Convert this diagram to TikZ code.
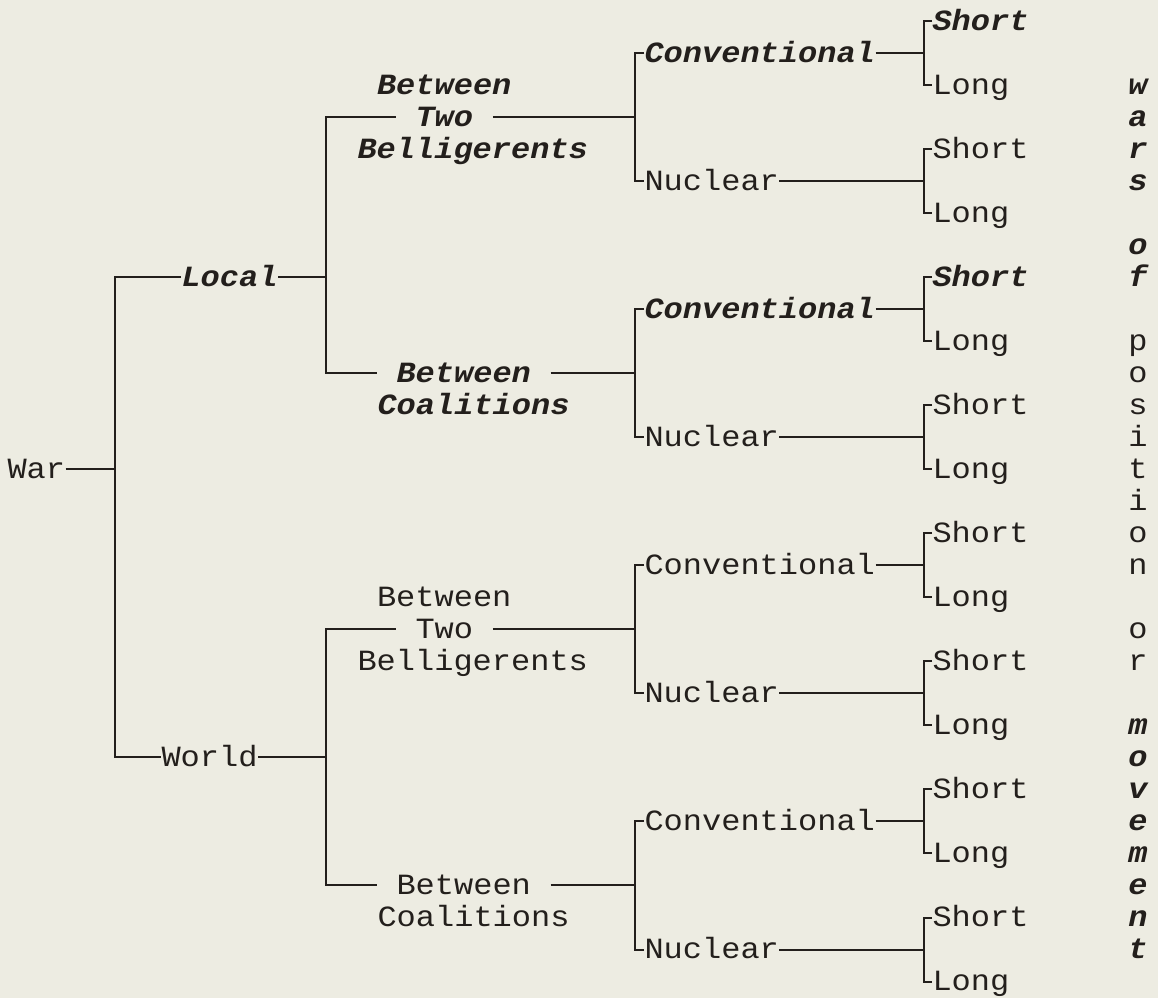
\documentclass[tikz,border=0pt]{standalone}
\usepackage{fontspec}
\setmainfont[FakeStretch=1.0909]{Liberation Mono}
\definecolor{bg}{RGB}{237,236,226}
\definecolor{ink}{RGB}{35,31,28}
\tikzset{
  txt/.style={inner sep=0pt, anchor=west, text height=8pt, text depth=1.6pt,
    font=\fontsize{11}{11}\selectfont},
  bitxt/.style={txt, font=\fontsize{11}{11}\selectfont\bfseries\itshape},
  gapped/.style={inner xsep=7.2pt, inner ysep=0pt},
  link/.style={line width=0.75pt, color=ink}
}
% #1 prefix, #2 row of Conventional, #3 style of Conventional, #4 style of its Short
\newcommand{\mytail}[4]{%
  \coordinate (#1C) at (635,#2+2);
  \node[#3] (#1conv) at (644,#2) {Conventional};
  \node[txt] (#1nuc) at (644,#2+4) {Nuclear};
  \draw[link] (#1conv.west) -| (#1C) |- (#1nuc.west);
  \coordinate (#1Da) at (924,#2);
  \coordinate (#1Db) at (924,#2+4);
  \node[#4] (#1sa) at (932,#2-1) {Short};
  \node[txt] (#1la) at (932,#2+1) {Long};
  \node[txt] (#1sb) at (932,#2+3) {Short};
  \node[txt] (#1lb) at (932,#2+5) {Long};
  \draw[link] (#1conv.east) -- (#1Da);
  \draw[link] (#1nuc.east) -- (#1Db);
  \draw[link] (#1sa.west) -| (#1Da) |- (#1la.west);
  \draw[link] (#1sb.west) -| (#1Db) |- (#1lb.west);
}
\begin{document}
\begin{tikzpicture}[x=0.375pt, y=-12pt, color=ink]
\useasboundingbox (0,-0.671875) rectangle (1158,30.515625);
\fill[bg] (0,-0.671875) rectangle (1158,30.515625);

% root
\node[txt] (war) at (7,14) {War};
\coordinate (A) at (115,14);
\node[bitxt] (local) at (181,8) {Local};
\node[txt] (world) at (161,23) {World};
\draw[link] (war.east) -- (A);
\draw[link] (local.west) -| (A) |- (world.west);

% Local branch
\coordinate (B1) at (326,8);
\draw[link] (local.east) -- (B1);
\node[bitxt] (lbtw) at (376.5,2) {Between};
\node[bitxt,gapped] (ltwo) at (395.8,3) {Two};
\node[bitxt] (lbel) at (357,4) {Belligerents};
\node[bitxt,gapped] (lbtc) at (376.8,11) {Between};
\node[bitxt] (lcoa) at (377,12) {Coalitions};
\draw[link] (ltwo.west) -| (B1) |- (lbtc.west);

\mytail{p}{1}{bitxt}{bitxt}
\draw[link] (ltwo.east) -- (pC);
\mytail{q}{9}{bitxt}{bitxt}
\draw[link] (lbtc.east) -- (qC);

% World branch
\coordinate (B2) at (326,23);
\draw[link] (world.east) -- (B2);
\node[txt] (wbtw) at (376.5,18) {Between};
\node[txt,gapped] (wtwo) at (395.8,19) {Two};
\node[txt] (wbel) at (357,20) {Belligerents};
\node[txt,gapped] (wbtc) at (376.8,27) {Between};
\node[txt] (wcoa) at (377,28) {Coalitions};
\draw[link] (wtwo.west) -| (B2) |- (wbtc.west);

\mytail{r}{17}{txt}{txt}
\draw[link] (wtwo.east) -- (rC);
\mytail{s}{25}{txt}{txt}
\draw[link] (wbtc.east) -- (sC);

% vertical caption
\foreach \ch/\rw/\st in {w/2/bitxt, a/3/bitxt, r/4/bitxt, s/5/bitxt,
    o/7/bitxt, f/8/bitxt,
    p/10/txt, o/11/txt, s/12/txt, i/13/txt, t/14/txt, i/15/txt, o/16/txt, n/17/txt,
    o/19/txt, r/20/txt,
    m/22/bitxt, o/23/bitxt, v/24/bitxt, e/25/bitxt, m/26/bitxt, e/27/bitxt, n/28/bitxt, t/29/bitxt}
  \node[\st, anchor=center] (v\rw) at (1138,\rw) {\ch};
\end{tikzpicture}
\end{document}
